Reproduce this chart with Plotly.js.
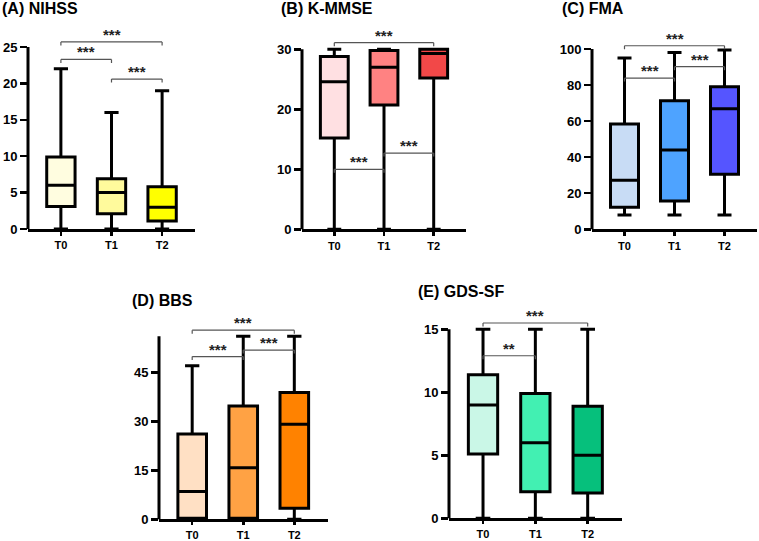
<!DOCTYPE html>
<html><head><meta charset="utf-8">
<script src="https://cdn.plot.ly/plotly-3.0.1.min.js"></script>
<style>html,body{margin:0;padding:0;background:#fff}#chart{width:759px;height:541px}</style>
</head><body><div id="chart"></div>
<script>
// ---------- data ----------
const groups = ['T0', 'T1', 'T2'];

const nihssMin = [0, 0, 0];
const nihssQ1  = [3.1, 2.1, 1.1];
const nihssMed = [6, 5, 3];
const nihssQ3  = [9.9, 6.9, 5.8];
const nihssMax = [22, 16, 19];
const nihssTicks = [0, 5, 10, 15, 20, 25];
const nihssSig = [[0, 2, 25.7, '***'], [0, 1, 23.3, '***'], [1, 2, 20.6, '***']];

const kmmseMin = [0, 0, 0];
const kmmseQ1  = [15.2, 20.7, 25.2];
const kmmseMed = [24.6, 27, 29.3];
const kmmseQ3  = [28.8, 29.8, 30];
const kmmseMax = [30, 30, 30];
const kmmseTicks = [0, 10, 20, 30];
const kmmseSig = [[0, 2, 31.1, '***'], [0, 1, 10.0, '***'], [1, 2, 12.7, '***']];

const fmaMin = [8, 8, 8];
const fmaQ1  = [12.2, 15.7, 30.5];
const fmaMed = [27.2, 44, 66.9];
const fmaQ3  = [58.4, 71.3, 79.1];
const fmaMax = [95, 98, 99.5];
const fmaTicks = [0, 20, 40, 60, 80, 100];
const fmaSig = [[0, 2, 101.8, '***'], [0, 1, 83.9, '***'], [1, 2, 90.2, '***']];

const bbsMin = [0, 0, 0];
const bbsQ1  = [0.3, 0.3, 3.4];
const bbsMed = [8.5, 15.8, 29.1];
const bbsQ3  = [26.1, 34.7, 38.8];
const bbsMax = [47, 56, 56];
const bbsTicks = [0, 15, 30, 45];
const bbsSig = [[0, 2, 57.9, '***'], [0, 1, 49.8, '***'], [1, 2, 51.8, '***']];

const gdsMin = [0, 0, 0];
const gdsQ1  = [5.1, 2.1, 2.0];
const gdsMed = [9, 6, 5];
const gdsQ3  = [11.4, 9.9, 8.9];
const gdsMax = [15, 15, 15];
const gdsTicks = [0, 5, 10, 15];
const gdsSig = [[0, 2, 15.5, '***'], [0, 1, 12.9, '**']];

const titles = ['(A) NIHSS', '(B) K-MMSE', '(C) FMA', '(D) BBS', '(E) GDS-SF'];
const colors = [
  ['#FFFDE0', '#FFFA9C', '#FFFF00'],
  ['#FFE0E2', '#FF8282', '#F24848'],
  ['#C8DCF5', '#4EA3FF', '#5555FF'],
  ['#FFE0C4', '#FFA244', '#FF8200'],
  ['#CAF7E7', '#42F0B2', '#06C07C']
];

// ---------- layout geometry (pixels of the 759x541 canvas) ----------
const W = 759, H = 541;
const geom = [
  {left: 28,  right: 195,   bottom: 229,   ppu: 7.28,  axisTop: 25,  titleX: 0,   titleY: 9,   xtl: 4},
  {left: 302, right: 466,   bottom: 229.3, ppu: 6.0,   axisTop: 30,  titleX: 279, titleY: 9,   xtl: 4},
  {left: 592, right: 757,   bottom: 229.3, ppu: 1.803, axisTop: 100, titleX: 560, titleY: 9,   xtl: 4},
  {left: 159, right: 327.5, bottom: 519.3, ppu: 3.267, axisTop: 56,  titleX: 130, titleY: 300, xtl: 3},
  {left: 449, right: 621.7, bottom: 518.3, ppu: 12.6,  axisTop: 15,  titleX: 416, titleY: 291, xtl: 3}
];
const rangeTops = [26.4, 31.7, 103.5, 59.5, 15.9];

const panels = [
  {min: nihssMin, q1: nihssQ1, med: nihssMed, q3: nihssQ3, max: nihssMax, ticks: nihssTicks, sig: nihssSig},
  {min: kmmseMin, q1: kmmseQ1, med: kmmseMed, q3: kmmseQ3, max: kmmseMax, ticks: kmmseTicks, sig: kmmseSig},
  {min: fmaMin, q1: fmaQ1, med: fmaMed, q3: fmaQ3, max: fmaMax, ticks: fmaTicks, sig: fmaSig},
  {min: bbsMin, q1: bbsQ1, med: bbsMed, q3: bbsQ3, max: bbsMax, ticks: bbsTicks, sig: bbsSig},
  {min: gdsMin, q1: gdsQ1, med: gdsMed, q3: gdsQ3, max: gdsMax, ticks: gdsTicks, sig: gdsSig}
];

const FONT = 'Liberation Sans, Arial, sans-serif';
const traces = [];
const layout = {
  width: W, height: H,
  margin: {l: 0, r: 0, t: 0, b: 0},
  paper_bgcolor: '#fff', plot_bgcolor: 'rgba(0,0,0,0)',
  showlegend: false,
  font: {family: FONT, color: '#000'},
  shapes: [], annotations: []
};

panels.forEach((p, k) => {
  const g = geom[k];
  const n = k + 1;
  const xa = 'x' + (n === 1 ? '' : n), ya = 'y' + (n === 1 ? '' : n);
  const xKey = 'xaxis' + (n === 1 ? '' : n), yKey = 'yaxis' + (n === 1 ? '' : n);
  const top = rangeTops[k];
  const topPx = g.bottom - top * g.ppu;

  groups.forEach((grp, i) => {
    traces.push({
      type: 'box', xaxis: xa, yaxis: ya,
      x: [grp], q1: [p.q1[i]], median: [p.med[i]], q3: [p.q3[i]],
      lowerfence: [p.min[i]], upperfence: [p.max[i]],
      fillcolor: colors[k][i],
      line: {color: '#000', width: 3},
      whiskerwidth: 0.5, width: 0.56,
      boxpoints: false, hoverinfo: 'skip'
    });
  });

  layout[xKey] = {
    domain: [g.left / W, g.right / W], anchor: ya,
    type: 'category', categoryorder: 'array', categoryarray: groups,
    range: [-0.65, 2.65], fixedrange: true,
    showline: true, linecolor: '#000', linewidth: 3,
    ticks: 'outside', ticklen: g.xtl, tickwidth: 2.5, tickcolor: '#000',
    showgrid: false, zeroline: false,
    tickfont: {family: FONT, size: 11, color: '#000', weight: 'bold'}
  };
  layout[yKey] = {
    domain: [(H - g.bottom) / H, (H - topPx) / H], anchor: xa,
    range: [0, top], fixedrange: true,
    showline: false, showgrid: false, zeroline: false,
    tickmode: 'array', tickvals: p.ticks,
    ticks: 'outside', ticklen: 7, tickwidth: 2.5, tickcolor: '#000',
    tickfont: {family: FONT, size: 13, color: '#000', weight: 'bold'}
  };

  const unit = 1 / g.ppu; // data units per pixel
  // y axis line
  layout.shapes.push({
    type: 'line', xref: xa + ' domain', yref: ya,
    x0: 0, x1: 0, y0: -3 * unit, y1: g.axisTop,
    line: {color: '#000', width: 3}
  });

  // significance brackets
  p.sig.forEach(s => {
    const [a, b, y, lab] = s;
    const lc = '#555', lw = 1.2, tick = 3.5 * unit;
    layout.shapes.push({type: 'line', xref: xa, yref: ya, x0: groups[a], x1: groups[b], y0: y, y1: y, line: {color: lc, width: lw}});
    layout.shapes.push({type: 'line', xref: xa, yref: ya, x0: groups[a], x1: groups[a], y0: y, y1: y - tick, line: {color: lc, width: lw}});
    layout.shapes.push({type: 'line', xref: xa, yref: ya, x0: groups[b], x1: groups[b], y0: y, y1: y - tick, line: {color: lc, width: lw}});
    layout.annotations.push({
      xref: xa, yref: ya, x: (a + b) / 2, y: y,
      text: '<b>' + lab + '</b>', showarrow: false, xanchor: 'center', yanchor: 'bottom', yshift: -3,
      font: {family: FONT, size: 15, color: '#222'}
    });
  });

  layout.annotations.push({
    xref: 'paper', yref: 'paper', x: g.titleX / W, y: 1 - g.titleY / H,
    xanchor: 'left', yanchor: 'middle', showarrow: false,
    text: '<b>' + titles[k] + '</b>',
    font: {family: FONT, size: 16, color: '#000'}
  });
});

Plotly.newPlot('chart', traces, layout, {staticPlot: true, displayModeBar: false});
</script>
</body></html>
